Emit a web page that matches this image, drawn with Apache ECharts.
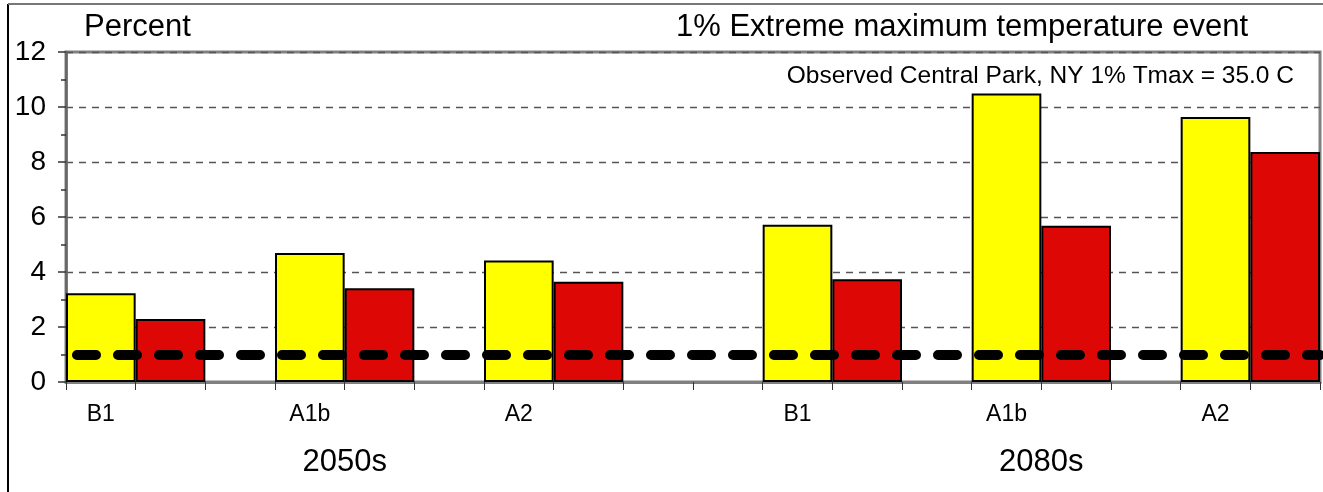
<!DOCTYPE html>
<html>
<head>
<meta charset="utf-8">
<script src="https://cdn.jsdelivr.net/npm/echarts@6/dist/echarts.min.js"></script>
<style>
html,body{margin:0;padding:0;background:#fff;}
#chart{width:1323px;height:492px;}
</style>
</head>
<body>
<div id="chart"></div>
<script>
// ---- data ----
const scenarios = ['B1', 'A1b', 'A2'];
const periods = ['2050s', '2080s'];
const yellowValues = [3.23, 4.69, 4.42, 5.72, 10.49, 9.64];
const redValues = [2.29, 3.41, 3.65, 3.74, 5.68, 8.36];
const observedLevel = 1.0;
const yMin = 0, yMax = 12, yStep = 2;
const titleLeft = 'Percent';
const titleRight = '1% Extreme maximum temperature event';
const noteText = 'Observed Central Park, NY 1% Tmax = 35.0 C';

// ---- slot layout (18 slots: period*10 + scenario*3) ----
const SLOTS = 18;
const cats = new Array(SLOTS).fill('');
const ySlots = new Array(SLOTS).fill('-');
const rSlots = new Array(SLOTS).fill('-');
periods.forEach((p, pi) => {
  scenarios.forEach((s, si) => {
    const k = pi * 10 + si * 3;
    const idx = pi * scenarios.length + si;
    cats[k] = s;
    ySlots[k] = yellowValues[idx];
    rSlots[k + 1] = redValues[idx];
  });
});
const periodPos = periods.map((p, pi) => pi * 10 + 4);

const FONT = '"Liberation Sans", Arial, sans-serif';
const chart = echarts.init(document.getElementById('chart'), null, {renderer: 'canvas'});
chart.setOption({
  animation: false,
  backgroundColor: '#fff',
  textStyle: {fontFamily: FONT},
  title: [
    {text: titleLeft, left: 84, top: 12, padding: 0,
     textStyle: {fontFamily: FONT, fontSize: 31, fontWeight: 'normal', color: '#000'}},
    {text: titleRight, right: 75, top: 12, padding: 0,
     textStyle: {fontFamily: FONT, fontSize: 31, fontWeight: 'normal', color: '#000'}},
    {text: noteText, right: 29, top: 64, padding: 0,
     textStyle: {fontFamily: FONT, fontSize: 24.5, fontWeight: 'normal', color: '#000'}}
  ],
  graphic: [
    {type: 'line', shape: {x1: 8, y1: 4, x2: 8, y2: 492}, style: {stroke: '#000', lineWidth: 2}, silent: true},
    {type: 'line', shape: {x1: 8, y1: 4, x2: 1323, y2: 4}, style: {stroke: '#777', lineWidth: 2}, silent: true}
  ],
  grid: {left: 66, right: 3, top: 52, bottom: 110, show: true, borderColor: '#808080', borderWidth: 3, backgroundColor: 'transparent'},
  xAxis: [
    {
      type: 'category', data: cats, boundaryGap: true,
      axisLine: {lineStyle: {color: '#808080', width: 3}},
      axisTick: {show: true, interval: 0, length: 8, lineStyle: {color: '#333', width: 1}},
      axisLabel: {interval: 0, fontSize: 23, color: '#000', margin: 21, fontFamily: FONT},
      splitLine: {show: false}
    },
    {
      type: 'value', min: 0, max: SLOTS, interval: 1, position: 'bottom',
      axisLine: {show: false}, axisTick: {show: false}, splitLine: {show: false},
      axisLabel: {
        customValues: periodPos, fontSize: 31, color: '#000', margin: 65, fontFamily: FONT,
        formatter: function (v) { const i = periodPos.indexOf(v); return i >= 0 ? periods[i] : ''; }
      }
    }
  ],
  yAxis: {
    type: 'value', min: yMin, max: yMax, interval: yStep,
    axisLine: {show: true, lineStyle: {color: '#666', width: 2.5}},
    axisTick: {show: true, length: 8, lineStyle: {color: '#333', width: 1.5}},
    minorTick: {show: true, splitNumber: 2, length: 5, lineStyle: {color: '#333', width: 1.5}},
    axisLabel: {fontSize: 28, color: '#000', margin: 20, fontFamily: FONT},
    splitLine: {show: true, lineStyle: {color: '#555', width: 1.3, type: [7, 6]}}
  },
  series: [
    {
      type: 'bar', name: 'yellow', data: ySlots, barWidth: '100%', barGap: '-100%',
      itemStyle: {color: '#FFFF00', borderColor: '#000', borderWidth: 2}
    },
    {
      type: 'bar', name: 'red', data: rSlots, barWidth: '100%', barGap: '-100%',
      itemStyle: {color: '#DD0806', borderColor: '#000', borderWidth: 2}
    },
    {
      type: 'line', name: 'observed', data: [], z: 10,
      markLine: {
        silent: true, symbol: ['none', 'none'], label: {show: false},
        lineStyle: {color: '#000', width: 10, type: [19, 22], dashOffset: 30, cap: 'round'},
        data: [{yAxis: observedLevel}]
      }
    }
  ]
});
</script>
</body>
</html>
